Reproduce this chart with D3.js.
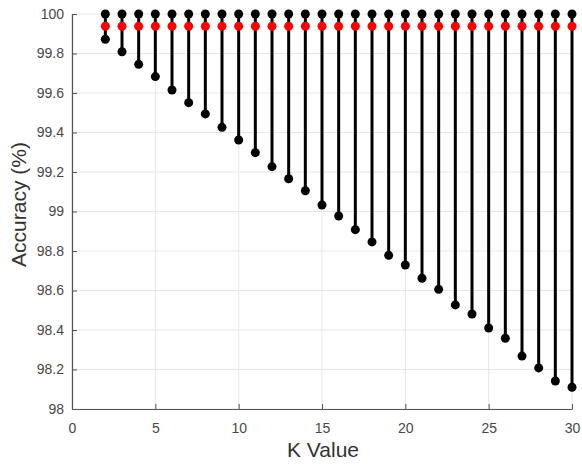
<!DOCTYPE html>
<html><head><meta charset="utf-8">
<script src="https://cdn.jsdelivr.net/npm/d3@7"></script>
<style>body{margin:0;background:#fff}</style>
</head><body>
<svg id="c" width="582" height="464"></svg>
<script>
const kValues = [2,3,4,5,6,7,8,9,10,11,12,13,14,15,16,17,18,19,20,21,22,23,24,25,26,27,28,29,30];
const maxAcc = [100,100,100,100,100,100,100,100,100,100,100,100,100,100,100,100,100,100,100,100,100,100,100,100,100,100,100,100,100];
const meanAcc = [99.938,99.938,99.938,99.938,99.938,99.938,99.938,99.938,99.938,99.938,99.938,99.938,99.938,99.938,99.938,99.938,99.938,99.938,99.938,99.938,99.938,99.938,99.938,99.938,99.938,99.938,99.938,99.938,99.938];
const minAcc = [99.872,99.809,99.745,99.683,99.615,99.551,99.494,99.426,99.362,99.298,99.227,99.166,99.105,99.033,98.977,98.908,98.846,98.778,98.729,98.662,98.606,98.527,98.481,98.410,98.358,98.268,98.208,98.142,98.110];
const xTicks = [0,5,10,15,20,25,30];
const yTicks = [98,98.2,98.4,98.6,98.8,99,99.2,99.4,99.6,99.8,100];

const svg = d3.select("#c");
const x = d3.scaleLinear().domain([0,30]).range([72,572]);
const y = d3.scaleLinear().domain([98,100]).range([409,14]);
const font = "Helvetica, 'Liberation Sans', Arial, sans-serif";

// grid
svg.append("g").selectAll("line").data(xTicks).join("line")
  .attr("x1",d=>x(d)).attr("x2",d=>x(d)).attr("y1",y(98)).attr("y2",y(100))
  .attr("stroke","#e6e6e6").attr("stroke-width",1);
svg.append("g").selectAll("line").data(yTicks).join("line")
  .attr("x1",x(0)).attr("x2",x(30)).attr("y1",d=>y(d)).attr("y2",d=>y(d))
  .attr("stroke","#e6e6e6").attr("stroke-width",1);

// axes
const xAxis = d3.axisBottom(x).tickValues(xTicks).tickSizeInner(-5).tickSizeOuter(0).tickPadding(14).tickFormat(d3.format("d"));
const yAxis = d3.axisLeft(y).tickValues(yTicks).tickSizeInner(-5).tickSizeOuter(0).tickPadding(8).tickFormat(d=>String(+d.toFixed(1)));
const gx = svg.append("g").attr("transform",`translate(0,${y(98)})`).call(xAxis);
const gy = svg.append("g").attr("transform",`translate(${x(0)},0)`).call(yAxis);
[gx,gy].forEach(g=>{
  g.select(".domain").attr("stroke","#555").attr("stroke-width",1.2);
  g.selectAll(".tick line").attr("stroke","#555");
  g.selectAll("text").attr("fill","#474747").attr("font-size",14).attr("font-family",font);
});

// stems
const data = kValues.map((k,i)=>({k,max:maxAcc[i],mean:meanAcc[i],min:minAcc[i]}));
svg.append("g").selectAll("line").data(data).join("line")
  .attr("x1",d=>x(d.k)).attr("x2",d=>x(d.k)).attr("y1",d=>y(d.max)).attr("y2",d=>y(d.min))
  .attr("stroke","#000").attr("stroke-width",3);
svg.append("g").selectAll("circle").data(data).join("circle")
  .attr("cx",d=>x(d.k)).attr("cy",d=>y(d.max)).attr("r",4.5).attr("fill","#000");
svg.append("g").selectAll("circle").data(data).join("circle")
  .attr("cx",d=>x(d.k)).attr("cy",d=>y(d.min)).attr("r",4.5).attr("fill","#000");
svg.append("g").selectAll("circle").data(data).join("circle")
  .attr("cx",d=>x(d.k)).attr("cy",d=>y(d.mean)).attr("r",4.5).attr("fill","#ff0000");

// labels
svg.append("text").attr("x",x(15)+1).attr("y",457).attr("text-anchor","middle")
  .attr("font-size",21).attr("font-family",font).attr("fill","#333").text("K Value");
svg.append("text").attr("transform",`translate(26,${y(99)-7}) rotate(-90)`).attr("text-anchor","middle")
  .attr("font-size",21).attr("font-family",font).attr("fill","#333").text("Accuracy (%)");
</script>
</body></html>
